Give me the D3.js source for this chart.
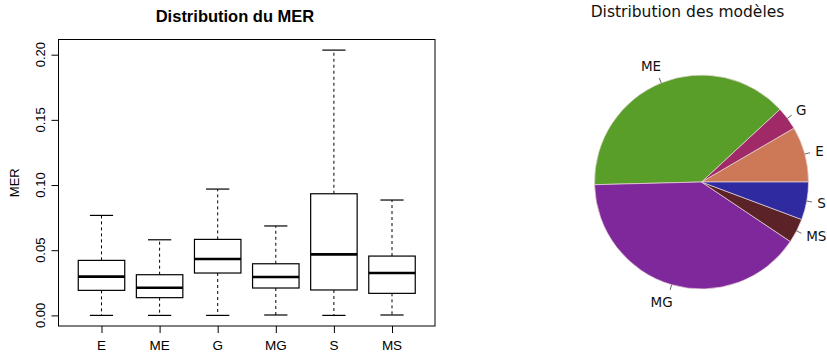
<!DOCTYPE html>
<html><head><meta charset="utf-8">
<script src="https://cdn.jsdelivr.net/npm/d3@7"></script>
<style>body{margin:0;background:#fff;} svg{display:block;}</style>
</head><body>
<svg id="c" width="827" height="356"></svg>
<script>
// ---- Boxplot data (MER) ----
const boxCategories = ["E", "ME", "G", "MG", "S", "MS"];
const whiskerLow  = [0.0000, 0.0000, 0.0000, 0.0003, 0.0000, 0.0003];
const q1          = [0.0192, 0.0136, 0.0325, 0.0210, 0.0195, 0.0169];
const medians     = [0.0297, 0.0212, 0.0432, 0.0294, 0.0468, 0.0325];
const q3          = [0.0422, 0.0312, 0.0583, 0.0396, 0.0933, 0.0455];
const whiskerHigh = [0.0767, 0.0580, 0.0969, 0.0686, 0.2035, 0.0885];
const yTicks = [0.00, 0.05, 0.10, 0.15, 0.20];
const yTickLabels = ["0.00", "0.05", "0.10", "0.15", "0.20"];

// ---- Pie data (modèles, %) ----
const pieCategories = ["E", "G", "ME", "MG", "MS", "S"];
const pieValues = [8.4, 3.5, 38.5, 40.2, 3.7, 5.7];
const pieColors = ["#cd7957", "#a02a68", "#5a9e2a", "#7f289b", "#5b2227", "#2f2aa0"];

const svg = d3.select("#c");

// ===== Boxplot =====
const frame = {left: 58.5, right: 435, top: 39.5, bottom: 326};
const n = boxCategories.length;
const xs = d3.scaleLinear().domain([0.5 - 0.04 * n, n + 0.5 + 0.04 * n]).range([frame.left, frame.right]);
const yMin = d3.min(whiskerLow), yMax = d3.max(whiskerHigh);
const pad = (yMax - yMin) * 0.04;
const ys = d3.scaleLinear().domain([yMin - pad, yMax + pad]).range([frame.bottom, frame.top]);

const gB = svg.append("g");
const ff = "'Liberation Sans', Arial, Helvetica, sans-serif";

gB.append("text").attr("x", 235).attr("y", 22).attr("text-anchor", "middle")
  .attr("font-family", ff).attr("font-weight", "bold").attr("font-size", 16.5).text("Distribution du MER");

gB.append("rect").attr("x", frame.left).attr("y", frame.top)
  .attr("width", frame.right - frame.left).attr("height", frame.bottom - frame.top)
  .attr("fill", "none").attr("stroke", "#000").attr("stroke-width", 1);

// y axis
const yAx = d3.axisLeft(ys).tickValues(yTicks).tickSize(7).tickFormat("");
const yg = gB.append("g").attr("transform", `translate(${frame.left},0)`).call(yAx);
yg.select(".domain").remove();
yg.selectAll("line").attr("stroke", "#000");
yTicks.forEach((t, i) => {
  gB.append("text").attr("transform", `translate(${frame.left - 14},${ys(t)}) rotate(-90)`)
    .attr("text-anchor", "middle").attr("font-family", ff).attr("font-size", 13)
    .text(yTickLabels[i]);
});
gB.append("text").attr("transform", `translate(19,${(frame.top + frame.bottom) / 2}) rotate(-90)`)
  .attr("text-anchor", "middle").attr("font-family", ff).attr("font-size", 13).text("MER");

// x axis
const xAx = d3.axisBottom(xs).tickValues(d3.range(1, n + 1)).tickSize(7).tickFormat("");
const xg = gB.append("g").attr("transform", `translate(0,${frame.bottom})`).call(xAx);
xg.select(".domain").remove();
xg.selectAll("line").attr("stroke", "#000");
boxCategories.forEach((c, i) => {
  gB.append("text").attr("x", xs(i + 1)).attr("y", 350).attr("text-anchor", "middle")
    .attr("font-family", ff).attr("font-size", 13.5).text(c);
});

// boxes
const bw = 0.4, cw = 0.2;
boxCategories.forEach((c, i) => {
  const cx = xs(i + 1);
  const g = gB.append("g").attr("fill", "none").attr("stroke", "#000");
  g.append("line").attr("x1", cx).attr("x2", cx).attr("y1", ys(q3[i])).attr("y2", ys(whiskerHigh[i]))
    .attr("stroke-dasharray", "3,3").attr("stroke-width", 1);
  g.append("line").attr("x1", cx).attr("x2", cx).attr("y1", ys(q1[i])).attr("y2", ys(whiskerLow[i]))
    .attr("stroke-dasharray", "3,3").attr("stroke-width", 1);
  g.append("line").attr("x1", xs(i + 1 - cw)).attr("x2", xs(i + 1 + cw))
    .attr("y1", ys(whiskerHigh[i])).attr("y2", ys(whiskerHigh[i])).attr("stroke-width", 1.2);
  g.append("line").attr("x1", xs(i + 1 - cw)).attr("x2", xs(i + 1 + cw))
    .attr("y1", ys(whiskerLow[i])).attr("y2", ys(whiskerLow[i])).attr("stroke-width", 1.2);
  g.append("rect").attr("x", xs(i + 1 - bw)).attr("y", ys(q3[i]))
    .attr("width", xs(i + 1 + bw) - xs(i + 1 - bw)).attr("height", ys(q1[i]) - ys(q3[i]))
    .attr("fill", "#fff").attr("stroke-width", 1.2);
  g.append("line").attr("x1", xs(i + 1 - bw)).attr("x2", xs(i + 1 + bw))
    .attr("y1", ys(medians[i])).attr("y2", ys(medians[i])).attr("stroke-width", 2.6);
});

// ===== Pie =====
const pcx = 701.5, pcy = 182, R = 107;
const pff = "'DejaVu Sans', sans-serif";
svg.append("text").attr("x", 687.5).attr("y", 16.5).attr("text-anchor", "middle")
  .attr("font-family", pff).attr("font-size", 15.5).attr("fill", "#111").text("Distribution des modèles");

const pie = d3.pie().sort(null).value(d => d).startAngle(Math.PI / 2).endAngle(Math.PI / 2 - 2 * Math.PI);
const arcs = pie(pieValues);
const arc = d3.arc().innerRadius(0).outerRadius(R);
const gP = svg.append("g").attr("transform", `translate(${pcx},${pcy})`);
gP.selectAll("path").data(arcs).join("path")
  .attr("d", arc).attr("fill", (d, i) => pieColors[i])
  .attr("stroke", "#e8d8d8").attr("stroke-width", 0.7);

arcs.forEach((a, i) => {
  const mid = (a.startAngle + a.endAngle) / 2; // d3 angle, 0 = north, clockwise
  const ux = Math.sin(mid), uy = -Math.cos(mid);
  gP.append("line").attr("x1", ux * R).attr("y1", uy * R).attr("x2", ux * R * 1.05).attr("y2", uy * R * 1.05)
    .attr("stroke", "#444").attr("stroke-width", 0.8);
  const left = ux < 0;
  const tx = ux * R * 1.1 + (left ? 4 : 0);
  const ty = uy * R * 1.1 + 8 * Math.pow(uy, 3);
  gP.append("text").attr("x", tx).attr("y", ty).attr("dy", "0.36em")
    .attr("text-anchor", left ? "end" : "start")
    .attr("font-family", pff).attr("font-size", 13.5).attr("fill", "#111").text(pieCategories[i]);
});
</script>
</body></html>
